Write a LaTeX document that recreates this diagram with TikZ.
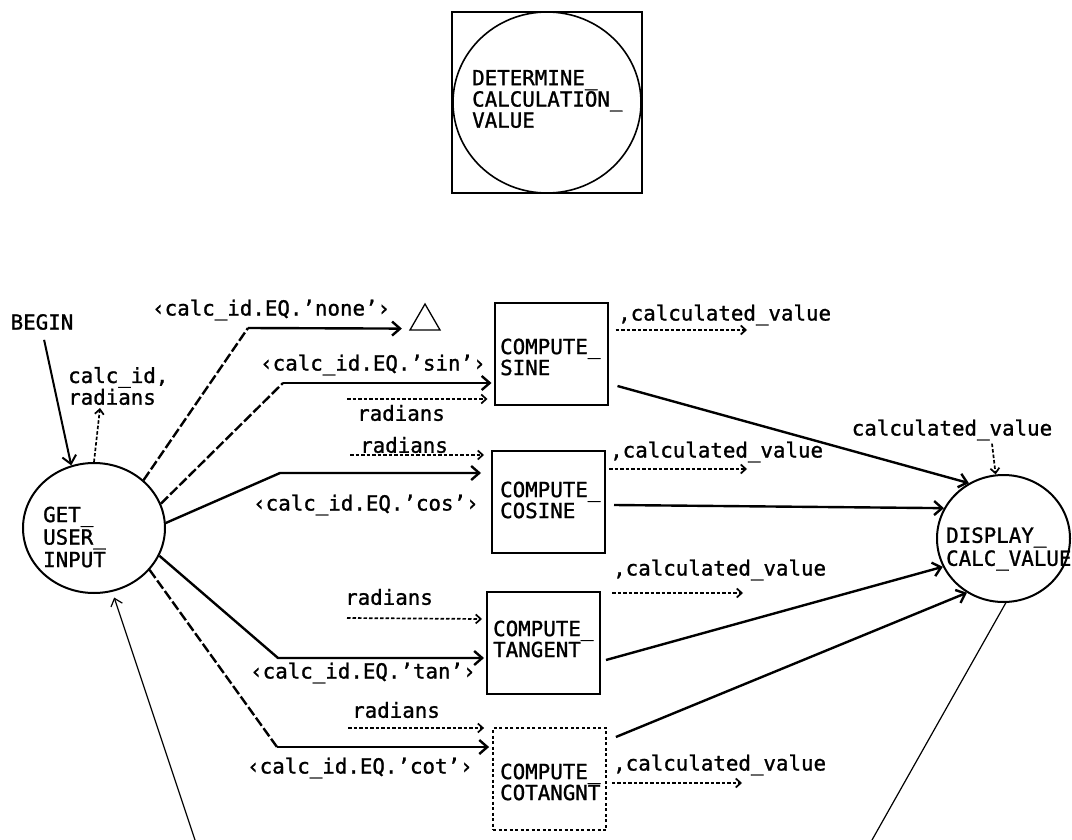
\documentclass[tikz,border=0pt]{standalone}
\usepackage{fontspec}
\newfontfamily\plotfont[FakeBold=1.2]{DejaVu Sans Mono}
\usetikzlibrary{arrows.meta,shapes.geometric,calc}
\begin{document}
\begin{tikzpicture}[x=1pt,y=-1pt,
  every node/.style={font=\plotfont\fontsize{20.8}{21}\selectfont, inner sep=0pt},
  proc/.style={draw, line width=2pt, minimum width=113pt, minimum height=102pt},
  ptext/.style={anchor=west, align=left},
  bubble/.style={draw, ellipse, line width=2pt},
  flow/.style={line width=2.4pt},
  ctrl/.style={line width=2.4pt, -{Straight Barb[length=8pt,width=14pt]}},
  dashseg/.style={line width=2.4pt, dash pattern=on 10pt off 3pt},
  data/.style={line width=1.7pt, dash pattern=on 3.5pt off 2pt, -{Straight Barb[length=5pt,width=9pt]}},
  thinline/.style={line width=1.2pt}
]
\useasboundingbox[fill=white] (0,0) rectangle (1072,840);

% top context bubble
\node[draw, line width=2pt, minimum width=190pt, minimum height=181pt] (detbox) at (547,102.5) {};
\node[bubble, line width=1.6pt, minimum width=188pt, minimum height=181pt] (detcirc) at (547,102.5) {};
\node[ptext, font=\plotfont\fontsize{20.8}{19.5}\selectfont] (dettext) at (472,99) {DETERMINE\_\\CALCULATION\_\\VALUE};

% bubbles
\node[bubble, minimum width=142pt, minimum height=130pt] (get) at (94,528) {};
\node[ptext, font=\plotfont\fontsize{20.8}{22.5}\selectfont] (gettext) at (43,537) {GET\_\\USER\_\\INPUT};
\node[bubble, minimum width=133pt, minimum height=127pt] (disp) at (1003.5,538.5) {};
\node[ptext, font=\plotfont\fontsize{20.8}{23}\selectfont] (disptext) at (946,549) {DISPLAY\_\\CALC\_VALUE};

% process boxes
\node[proc] (sine) at (551,353.5) {};
\node[ptext] (sinetext) at (500,357) {COMPUTE\_\\SINE};
\node[proc] (cosine) at (548.5,502) {};
\node[ptext] (costext) at (500,500) {COMPUTE\_\\COSINE};
\node[proc] (tangent) at (543.5,643) {};
\node[ptext] (tantext) at (493,639) {COMPUTE\_\\TANGENT};
\node[proc, line width=1.8pt, dash pattern=on 3pt off 2.5pt] (cotan) at (549.5,779) {};
\node[ptext] (cottext) at (500,782) {COMPUTE\_\\COTANGNT};

% triangle
\node[draw, regular polygon, regular polygon sides=3, minimum size=34.6pt, line width=1.3pt] (tri) at (425,321.3) {};

% labels
\node[anchor=center] (begin) at (42,322) {BEGIN};
\node[ptext, font=\plotfont\fontsize{20.8}{18}\selectfont] (outlbl) at (68,386) {calc\_id,\\radians};
\node[ptext] (lnone) at (152,310) {‹calc\_id.EQ.’none’›};
\node[ptext] (lsin) at (260,365) {‹calc\_id.EQ.’sin’›};
\node[ptext] (lcos) at (253,505) {‹calc\_id.EQ.’cos’›};
\node[ptext] (ltan) at (250,673) {‹calc\_id.EQ.’tan’›};
\node[ptext] (lcot) at (247,768) {‹calc\_id.EQ.’cot’›};
\node[ptext] (rsin) at (357,413) {radians};
\node[ptext] (rcos) at (360,445) {radians};
\node[ptext] (rtan) at (345,597) {radians};
\node[ptext] (rcot) at (352,710) {radians};
\node[ptext] (csin) at (618,315) {,calculated\_value};
\node[ptext] (ccos) at (610,452) {,calculated\_value};
\node[ptext] (ctan) at (613,570) {,calculated\_value};
\node[ptext] (ccot) at (613,765) {,calculated\_value};
\node[anchor=center] (cvl) at (952,430) {calculated\_value};

% coordinates
\coordinate (outtip) at (100,408);
\coordinate (bn) at (248,328);
\coordinate (bs) at (283,383);
\coordinate (bc) at (280,473);
\coordinate (bt) at (278,658);
\coordinate (bk) at (277,747);
\coordinate (rs0) at (347,399);
\coordinate (rc0) at (350,455);
\coordinate (rt0) at (347,618);
\coordinate (rk0) at (348,728);
\coordinate (cs1) at (747,330);
\coordinate (cc1) at (747,469);
\coordinate (ct1) at (743,593);
\coordinate (ck1) at (742,783);
\coordinate (lpA) at (195,840);
\coordinate (lpB) at (872,840);

% BEGIN
\draw[line width=2pt, -{Straight Barb[length=8pt,width=14pt]}, shorten <=10pt] (begin.south) -- (get.110);
\draw[data] (get.north) -- (outtip);

% control flows
\draw[dashseg] (get.44) -- (bn);
\draw[ctrl] (bn) -- ([xshift=-7pt,yshift=2pt]tri.corner 2);
\draw[dashseg] (get.20) -- (bs);
\draw[ctrl] (bs) -- ([xshift=-2pt,yshift=-29.5pt]sine.west);
\draw[ctrl] (get.4) -- (bc) -- ([xshift=-10pt,yshift=29pt]cosine.west);
\draw[ctrl] (get.-23) -- (bt) -- ([xshift=-2pt,yshift=-15pt]tangent.west);
\draw[dashseg] (get.-37) -- (bk);
\draw[ctrl] (bk) -- ([xshift=-3pt,yshift=32pt]cotan.west);

% data inputs
\draw[data] (rs0) -- ([xshift=-6pt,yshift=-45.5pt]sine.west);
\draw[data] (rc0) -- ([xshift=-7pt,yshift=47pt]cosine.west);
\draw[data] (rt0) -- ([xshift=-4pt,yshift=24pt]tangent.west);
\draw[data] (rk0) -- ([xshift=-8pt,yshift=51pt]cotan.west);

% data outputs
\draw[data] ([xshift=7pt,yshift=23.5pt]sine.east) -- (cs1);
\draw[data] ([xshift=3pt,yshift=33pt]cosine.east) -- (cc1);
\draw[data] ([xshift=11pt,yshift=50pt]tangent.east) -- (ct1);
\draw[data] ([xshift=5pt,yshift=-4pt]cotan.east) -- (ck1);

% to display
\draw[ctrl] ([xshift=9pt,yshift=-32.5pt]sine.east) -- (disp.122);
\draw[ctrl] ([xshift=8pt,yshift=-3pt]cosine.east) -- (disp.153);
\draw[ctrl] ([xshift=5pt,yshift=-17pt]tangent.east) -- (disp.205);
\draw[ctrl] ([xshift=9pt,yshift=42pt]cotan.east) -- (disp.236);
\draw[data] ([xshift=40pt,yshift=-3pt]cvl.south) -- (disp.97);

% loop lines
\draw[thinline, -{Straight Barb[length=7pt,width=12pt]}, shorten >=6pt] (lpA) -- (get.-74);
\draw[thinline] (disp.-88) -- (lpB);
\end{tikzpicture}
\end{document}
